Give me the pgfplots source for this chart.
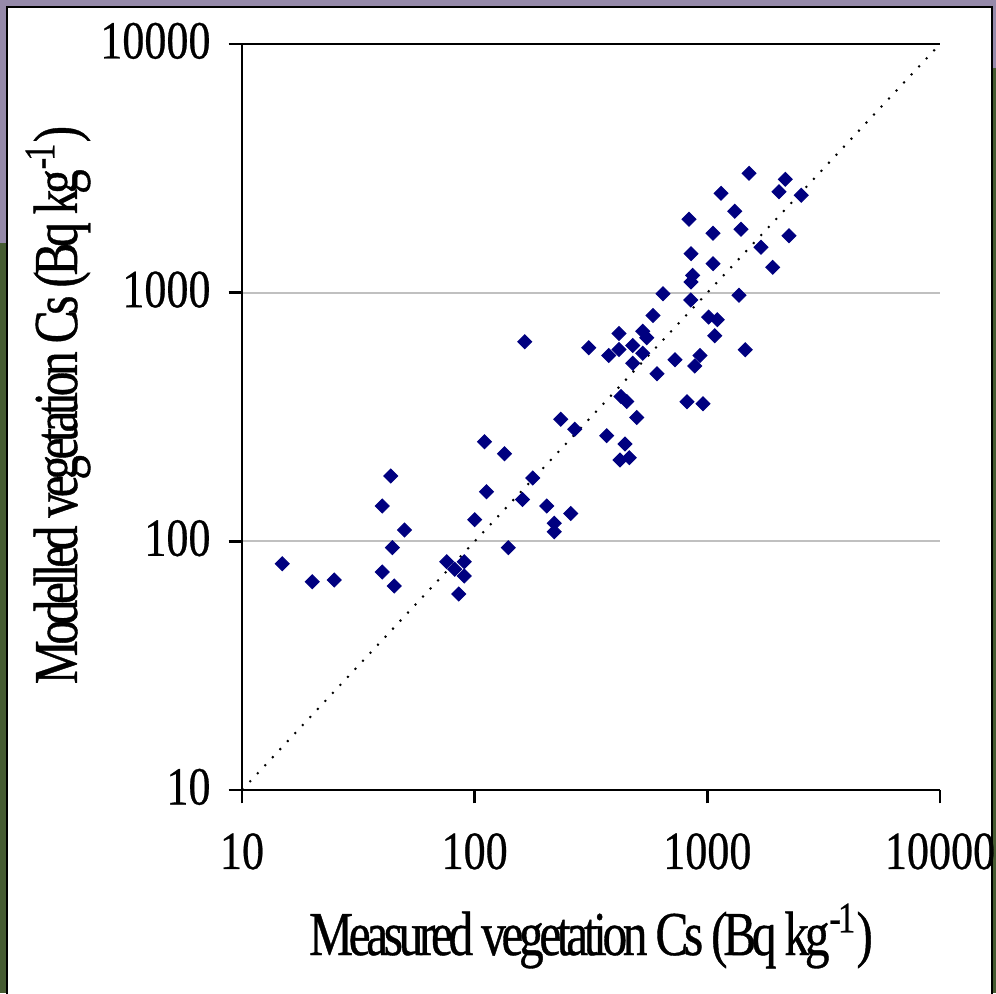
\documentclass[border=0pt]{standalone}
\usepackage{pgfplots}
\pgfplotsset{compat=1.18}
\usepackage{fontspec}
\setmainfont{Liberation Serif}
\newfontfamily\tickfont{Liberation Serif}[FakeBold=0.6]
\newfontfamily\labfont{Liberation Serif}[FakeStretch=0.79,LetterSpace=-7,FakeBold=0.6]
\newcommand{\tl}[1]{\scalebox{0.82}[1]{\tickfont #1}}
\definecolor{navy}{RGB}{0,0,128}
\definecolor{bgpurple}{RGB}{150,138,170}
\definecolor{bggreen}{RGB}{70,92,50}
\definecolor{gridgray}{RGB}{192,192,192}
\begin{document}
\begin{tikzpicture}
\useasboundingbox (0,0) rectangle (398.4pt,397.2pt);
\fill[bgpurple] (0,0) rectangle (398.4pt,397.2pt);
\fill[bggreen] (0,0) rectangle (2.8pt,300pt);
\fill[bggreen] (396.8pt,0) rectangle (398.4pt,370pt);
\filldraw[fill=white, draw=black, line width=1pt] (2.8pt,-3pt) rectangle (396.8pt,394.4pt);
\begin{axis}[
  at={(96.8pt,81.2pt)}, anchor=south west,
  scale only axis, width=279.2pt, height=298.4pt,
  xmode=log, ymode=log,
  xmin=10, xmax=10000, ymin=10, ymax=10000,
  axis x line=bottom, axis y line=left,
  axis line style={-, line width=1pt, black},
  xtick={10,100,1000,10000}, ytick={10,100,1000,10000},
  xticklabels={\tl{10},\tl{100},\tl{1000},\tl{10000}},
  yticklabels={\tl{10},\tl{100},\tl{1000},\tl{10000}},
  xminorticks=false, yminorticks=false,
  tick align=outside, major tick length=5.4pt,
  tick style={black, line width=1pt},
  ymajorgrids, grid style={gridgray, line width=0.8pt},
  tick label style={font=\fontsize{21.5}{24}\tickfont, black},
  yticklabel style={anchor=base east, inner sep=0pt, xshift=-7pt, yshift=-5.8pt},
  xticklabel style={anchor=base, inner sep=0pt, yshift=-26.2pt},
  xlabel={Measured vegetation Cs (Bq kg\textsuperscript{-1})},
  ylabel={Modelled vegetation Cs (Bq kg\textsuperscript{-1})},
  label style={font=\fontsize{25}{30}\labfont, inner sep=0pt},
  xlabel style={at={(axis description cs:0.5,-0.2212)}, anchor=base},
  ylabel style={at={(axis description cs:-0.2364,0.516)}, anchor=base, rotate=0},
  clip=false,
]
\addplot[black, line width=0.8pt, dash pattern=on 0.8pt off 3.6pt] coordinates {(10,10) (10000,10000)};
\addplot[only marks, mark=square*, mark size=1.95pt, mark options={rotate=45, fill=navy, draw=navy}] coordinates {
(14.9,81.3) (20.05,68.8) (24.9,69.9) (40.1,138.7) (43.6,183.2) (40.1,75.3) (45.1,66.1) (44.3,94.3) (49.9,111.1)
(75.8,82.8) (82.1,77.2) (90.2,82.8) (90.2,72.5) (85.4,61.4) (100,122.2) (110.2,251.6) (112.4,158.4) (134.3,225.1)
(139.5,94.3) (160.6,147.4) (177.6,179.8) (164.1,635) (204,138.7) (219.9,118.2) (219.9,109.3) (258.6,129.4)
(234.3,309.6) (269.1,282.2) (309.2,600.6) (369.4,266) (376.8,558.8) (417.3,685) (417.3,590.8) (425.6,382.3)
(450.2,365) (442.7,246.3) (421.4,212.4) (461.9,217) (477.7,612.9) (477.7,520) (497,314.8) (527.6,699.3)
(548.9,659.1) (527.6,570.4) (584.2,809.2) (607.6,472.2) (644.8,990.6) (726.1,537.6) (817.5,364.3) (834,1972)
(851,1435) (865,1174) (851,1104) (848.4,934.3) (882.5,507.3) (930,558.8) (958,357.6) (1013,798) (1058,1733)
(1058,1308) (1076,671.4) (1104,778.5) (1145,2509) (1311,2124) (1368,975.9) (1395,1798) (1456,589.7) (1511,3020)
(1701,1522) (1909,1265) (2032,2547) (2163,2857) (2244,1695) (2534,2464)
};
\draw[black, line width=1pt] (rel axis cs:0,1) -- (rel axis cs:1,1);
\end{axis}
\end{tikzpicture}
\end{document}
